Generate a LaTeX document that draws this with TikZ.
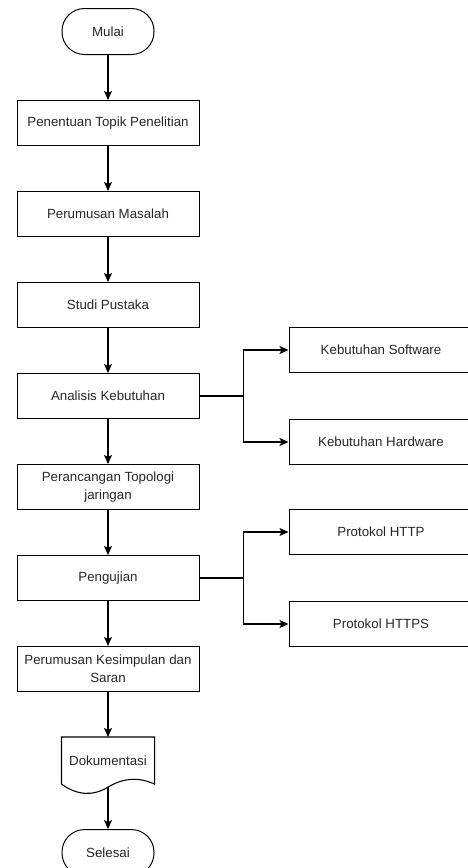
\documentclass[tikz,border=0pt]{standalone}
\usepackage{fontspec}
\setmainfont{Liberation Sans}
\usetikzlibrary{arrows,arrows.meta,positioning}
\tikzset{
  fcbox/.style={rectangle,draw,line width=1pt,minimum width=182pt,minimum height=45pt,inner sep=2pt,align=center},
  fcterm/.style={rectangle,draw,line width=1pt,rounded corners=22.5pt,minimum width=92pt,minimum height=46pt,inner sep=1pt},
  fcdoc/.style={rectangle,minimum width=92pt,minimum height=46pt,inner sep=1pt},
  fcside/.style={fcbox,minimum width=184pt}
}

\begin{document}
\begin{tikzpicture}[node distance=45pt,>={Stealth[length=9pt,width=8pt,inset=2pt]},line width=1.1pt,
    every node/.style={font=\fontsize{13.3pt}{18pt}\selectfont,text=black!85}]
        \useasboundingbox (0,0) rectangle (467pt,-868pt);
        \node[fcterm] (start) at (108pt,-31.5pt) {Mulai};
        \node[fcbox,below=of start] (topik) {Penentuan Topik Penelitian};
        \node[fcbox,below=of topik] (masalah) {Perumusan Masalah};
        \node[fcbox,below=of masalah] (pustaka) {Studi Pustaka};
        \node[fcbox,below=of pustaka] (analisis) {Analisis Kebutuhan};
        \node[fcbox,below=of analisis] (topologi) {Perancangan Topologi\\jaringan};
        \node[fcbox,below=of topologi] (uji) {Pengujian};
        \node[fcbox,below=of uji] (simpul) {Perumusan Kesimpulan dan\\Saran};
        \node[fcdoc,below=of simpul] (dok) {Dokumentasi};
        \node[fcterm,below=of dok] (selesai) {Selesai};
        \node[fcside,above right=0pt and 89pt of analisis.north east] (sw) {Kebutuhan Software};
        \node[fcside,below right=0pt and 89pt of analisis.south east] (hw) {Kebutuhan Hardware};
        \node[fcside,above right=0pt and 89pt of uji.north east] (http) {Protokol HTTP};
        \node[fcside,below right=0pt and 89pt of uji.south east] (https) {Protokol HTTPS};
        \coordinate[right=44pt of analisis] (ja);
        \coordinate[right=44pt of uji] (ju);
        % document shape with wavy bottom
        \draw (dok.south west) -- (dok.north west) -- (dok.north east) -- (dok.south east)
          .. controls ([shift={(30.7pt,7.3pt)}]dok.south) and ([shift={(15.3pt,6.3pt)}]dok.south) .. ([yshift=-3pt]dok.south)
          .. controls ([shift={(-15.3pt,-12.3pt)}]dok.south) and ([shift={(-30.7pt,-11.3pt)}]dok.south) .. (dok.south west);
        \path[->]
          (start) edge (topik)
          (topik) edge (masalah)
          (masalah) edge (pustaka)
          (pustaka) edge (analisis)
          (analisis) edge (topologi)
          (topologi) edge (uji)
          (uji) edge (simpul)
          (simpul) edge (dok)
          ([yshift=-3pt]dok.south) edge (selesai);
        \draw (analisis) -- (ja);
        \draw[->] (ja) |- (sw);
        \draw[->] (ja) |- (hw);
        \draw (uji) -- (ju);
        \draw[->] (ju) |- (http);
        \draw[->] (ju) |- (https);
      \end{tikzpicture}
\end{document}
